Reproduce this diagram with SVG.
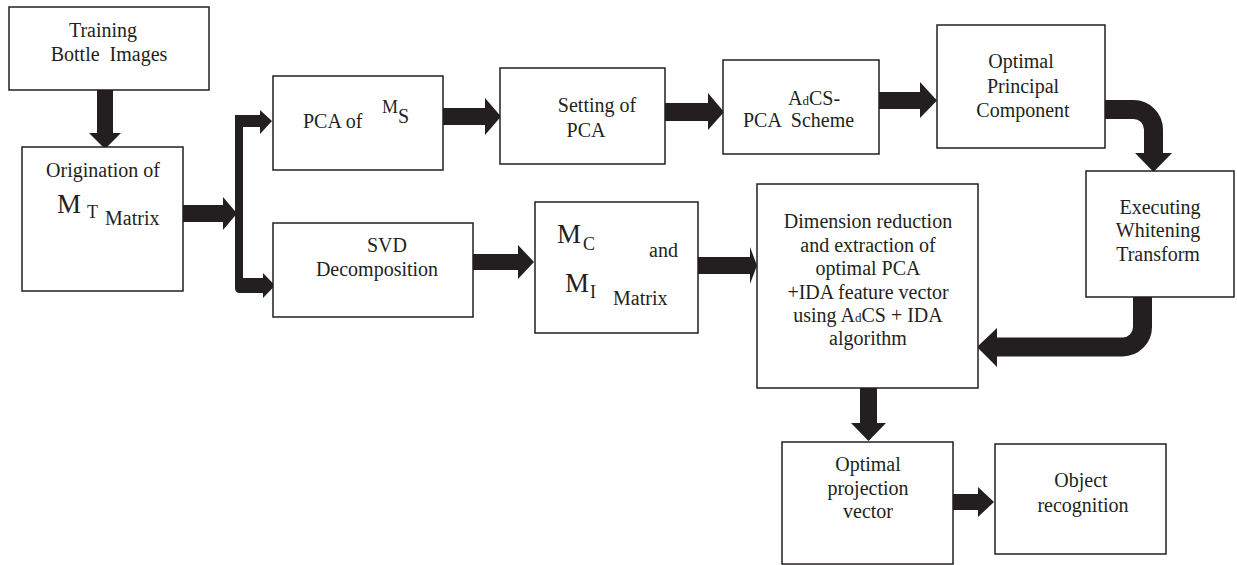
<svg xmlns="http://www.w3.org/2000/svg" width="1237" height="565" viewBox="0 0 1237 565" font-family="'Liberation Serif', 'DejaVu Serif', serif">
<style>
.box{fill:#fff;stroke:#231f20;stroke-width:1.5}
.arr{fill:#231f20}
.carr{fill:none;stroke:#231f20;stroke-width:19}
text{font-family:'Liberation Serif','DejaVu Serif',serif;font-size:20px;fill:#231f20}
.m{text-anchor:middle}
</style>
<rect width="1237" height="565" fill="#fff"/>
<g id="connectors">
<polygon class="arr" points="97,90 113,90 113,133 121,133 105,149 89,133 97,133"/>
<polygon class="arr" points="183,205 223,205 223,197 237,213.5 223,230 223,222 183,222"/>
<path class="arr" d="M235,115 H260 V110 L272,121 L260,134 V127 H243 V278 H263 V273 L275,285.5 L263,298 V293 H240 Q235,293 235,288 Z"/>
<polygon class="arr" points="443,108 485,108 485,98 501,116.5 485,135 485,125 443,125"/>
<polygon class="arr" points="665,103 708,103 708,93 724,112 708,130 708,121 665,121"/>
<polygon class="arr" points="879,92 920,92 920,82 937,100.5 920,118 920,109 879,109"/>
<path class="carr" d="M1105,109.5 H1133.5 A20,20 0 0 1 1153.5,129.5 V154"/>
<polygon class="arr" points="1135,153 1172,153 1153.5,172"/>
<path class="carr" d="M1142.5,296 V327 A20,20 0 0 1 1122.5,347 H995"/>
<polygon class="arr" points="997,328 997,367 977,347"/>
<polygon class="arr" points="473,254 518,254 518,245 534,262 518,279 518,270 473,270"/>
<polygon class="arr" points="698,257 750,257 750,247 757,265.5 750,284 750,274 698,274"/>
<polygon class="arr" points="860,388 877,388 877,423 886,423 868.5,441 851,423 860,423"/>
<polygon class="arr" points="953,494 978,494 978,487 994,502 978,517 978,510 953,510"/>
</g>
<g id="training">
<rect class="box" x="9" y="7" width="200" height="83"/>
<text class="m" x="103" y="37">Training</text>
<text class="m" x="109" y="61" xml:space="preserve">Bottle  Images</text>
</g>
<g id="origination">
<rect class="box" x="22" y="147" width="161" height="144"/>
<text class="m" x="103" y="177">Origination of</text>
<text x="57" y="213" style="font-size:27px">M</text>
<text x="87" y="218" style="font-size:18px">T</text>
<text x="105" y="225">Matrix</text>
</g>
<g id="pca-ms">
<rect class="box" x="273" y="76" width="170" height="94"/>
<text x="303" y="128">PCA of</text>
<text x="382" y="113" style="font-size:18px">M</text>
<text x="398" y="123">S</text>
</g>
<g id="setting">
<rect class="box" x="500" y="68" width="165" height="96"/>
<text class="m" x="597" y="112">Setting of</text>
<text class="m" x="586" y="137">PCA</text>
</g>
<g id="adcs">
<rect class="box" x="723" y="60" width="156" height="94"/>
<text x="788" y="105">A<tspan style="font-size:13px">d</tspan>CS-</text>
<text x="743" y="127" xml:space="preserve">PCA  Scheme</text>
</g>
<g id="optimal-pc">
<rect class="box" x="937" y="25" width="168" height="123"/>
<text class="m" x="1021" y="68">Optimal</text>
<text class="m" x="1023" y="93">Principal</text>
<text class="m" x="1023" y="117">Component</text>
</g>
<g id="whitening">
<rect class="box" x="1086" y="171" width="148" height="126"/>
<text class="m" x="1160" y="214">Executing</text>
<text class="m" x="1158" y="237">Whitening</text>
<text class="m" x="1158" y="261">Transform</text>
</g>
<g id="svd">
<rect class="box" x="273" y="223" width="200" height="94"/>
<text class="m" x="387" y="252">SVD</text>
<text class="m" x="377" y="276">Decomposition</text>
</g>
<g id="mc-mi">
<rect class="box" x="535" y="202" width="163" height="131"/>
<text x="557" y="243" style="font-size:27px">M</text>
<text x="583" y="250" style="font-size:18px">C</text>
<text x="649" y="257">and</text>
<text x="565" y="292" style="font-size:27px">M</text>
<text x="590" y="298" style="font-size:18px">I</text>
<text x="613" y="305">Matrix</text>
</g>
<g id="dimension">
<rect class="box" x="757" y="184" width="221" height="204"/>
<text class="m" x="868" y="228">Dimension reduction</text>
<text class="m" x="868" y="252">and extraction of</text>
<text class="m" x="868" y="275">optimal PCA</text>
<text class="m" x="868" y="299">+IDA feature vector</text>
<text class="m" x="868" y="322">using A<tspan style="font-size:13px">d</tspan>CS + IDA</text>
<text class="m" x="868" y="345">algorithm</text>
</g>
<g id="projection">
<rect class="box" x="782" y="442" width="171" height="122"/>
<text class="m" x="868" y="471">Optimal</text>
<text class="m" x="868" y="495">projection</text>
<text class="m" x="868" y="518">vector</text>
</g>
<g id="recognition">
<rect class="box" x="995" y="444" width="171" height="110"/>
<text class="m" x="1081" y="487">Object</text>
<text class="m" x="1083" y="512">recognition</text>
</g>
</svg>
